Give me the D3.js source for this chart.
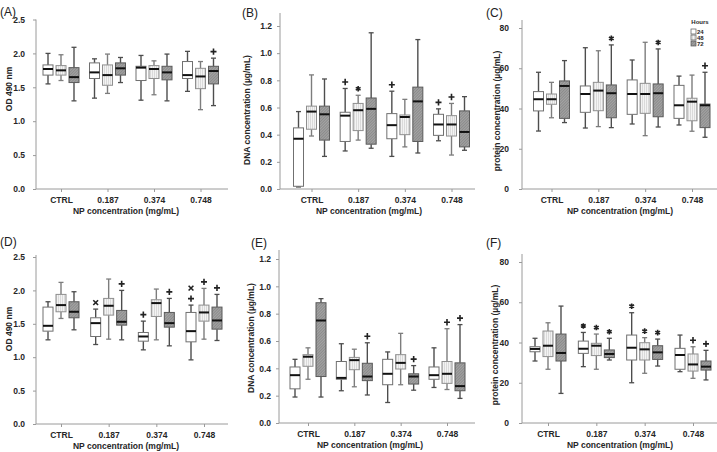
<!DOCTYPE html>
<html>
<head>
<meta charset="utf-8">
<script src="https://cdn.jsdelivr.net/npm/d3@7"></script>
<style>
body { margin:0; background:#fff; }
text { font-family: 'Liberation Sans', Arial, sans-serif; }
</style>
</head>
<body>
<script>
// categories and groups
var categories = ['CTRL', '0.187', '0.374', '0.748'];
var hours = ['24', '48', '72'];

// tick values
var odTicks = [0, 0.5, 1.0, 1.5, 2.0, 2.5];
var dnaTicks = [0, 0.2, 0.4, 0.6, 0.8, 1.0, 1.2];
var proteinTicks = [0, 20, 40, 60, 80];

// boxes: [min, q1, median, q3, max], ordered CTRL(24,48,72), 0.187(...), 0.374(...), 0.748(...)
var boxesA = [
  [1.55, 1.68, 1.77, 1.83, 2.00], [1.60, 1.68, 1.75, 1.82, 1.98], [1.30, 1.57, 1.65, 1.79, 2.09],
  [1.34, 1.63, 1.72, 1.86, 1.92], [1.41, 1.53, 1.68, 1.83, 1.99], [1.57, 1.68, 1.78, 1.86, 1.94],
  [1.31, 1.60, 1.79, 1.81, 1.97], [1.39, 1.63, 1.77, 1.82, 1.89], [1.30, 1.61, 1.72, 1.81, 1.99],
  [1.44, 1.63, 1.68, 1.88, 2.03], [1.17, 1.48, 1.66, 1.78, 1.88], [1.23, 1.55, 1.74, 1.81, 1.93]
];
var boxesB = [
  [0.015, 0.02, 0.37, 0.45, 0.57], [0.39, 0.44, 0.57, 0.61, 0.84], [0.24, 0.36, 0.55, 0.61, 0.81],
  [0.28, 0.35, 0.54, 0.565, 0.74], [0.36, 0.43, 0.58, 0.63, 0.69], [0.30, 0.33, 0.59, 0.67, 1.15],
  [0.24, 0.37, 0.47, 0.555, 0.72], [0.31, 0.40, 0.53, 0.545, 0.66], [0.265, 0.35, 0.645, 0.75, 1.10],
  [0.355, 0.395, 0.475, 0.55, 0.59], [0.25, 0.39, 0.475, 0.54, 0.63], [0.285, 0.31, 0.42, 0.575, 0.68]
];
var boxesC = [
  [28.8, 38.8, 44.6, 48.4, 58.0], [35.4, 42.1, 44.6, 47.2, 53.0], [33.0, 35.1, 51.2, 53.7, 63.8],
  [30.3, 38.1, 47.2, 51.2, 70.2], [31.0, 38.9, 48.9, 53.0, 68.7], [30.5, 35.4, 47.6, 51.7, 71.6],
  [32.3, 37.1, 47.2, 54.2, 64.1], [26.5, 37.6, 47.2, 52.5, 72.9], [30.8, 35.9, 47.6, 52.2, 69.6],
  [31.8, 35.1, 41.6, 51.5, 56.1], [28.7, 33.9, 43.4, 45.1, 56.6], [25.7, 30.5, 41.6, 42.2, 58.0]
];
var boxesD = [
  [1.26, 1.39, 1.47, 1.75, 1.83], [1.58, 1.68, 1.78, 1.94, 2.12], [1.41, 1.59, 1.68, 1.83, 1.98],
  [1.19, 1.31, 1.51, 1.59, 1.72], [1.27, 1.63, 1.77, 1.88, 2.17], [1.26, 1.48, 1.53, 1.70, 2.00],
  [1.11, 1.24, 1.31, 1.37, 1.54], [1.26, 1.61, 1.81, 1.86, 2.02], [1.17, 1.45, 1.51, 1.67, 1.88],
  [0.96, 1.23, 1.39, 1.67, 1.78], [1.27, 1.54, 1.67, 1.78, 2.03], [1.25, 1.42, 1.55, 1.75, 1.94]
];
var boxesE = [
  [0.19, 0.25, 0.35, 0.41, 0.466], [0.32, 0.415, 0.485, 0.50, 0.55], [0.19, 0.34, 0.75, 0.88, 0.91],
  [0.236, 0.32, 0.33, 0.45, 0.58], [0.265, 0.39, 0.46, 0.48, 0.54], [0.205, 0.31, 0.34, 0.437, 0.587],
  [0.15, 0.28, 0.36, 0.466, 0.52], [0.28, 0.395, 0.44, 0.50, 0.656], [0.24, 0.285, 0.34, 0.36, 0.42],
  [0.26, 0.32, 0.35, 0.41, 0.55], [0.245, 0.29, 0.36, 0.45, 0.69], [0.18, 0.236, 0.27, 0.44, 0.72]
];
var boxesF = [
  [30.8, 35.4, 36.8, 37.9, 42.1], [26.7, 33.0, 38.4, 45.7, 49.8], [14.7, 30.8, 34.8, 44.2, 58.1],
  [28.0, 34.6, 36.9, 40.7, 45.0], [26.7, 33.5, 38.4, 39.6, 44.2], [31.3, 32.5, 34.3, 36.3, 42.1],
  [20.0, 31.3, 37.4, 43.7, 54.8], [24.7, 31.3, 36.6, 39.9, 42.4], [28.3, 31.6, 35.1, 38.4, 41.7],
  [25.5, 26.7, 33.8, 37.1, 43.7], [22.2, 25.8, 29.1, 34.3, 37.9], [21.4, 26.3, 28.0, 30.8, 36.1]
];

// significance marks above each box (stacked from bottom up)
var marksA = ['', '', '', '', '', '', '', '', '', '', '', '+'];
var marksB = ['', '', '', '+', '*', '', '+', '', '', '+', '+', ''];
var marksC = ['', '', '', '', '', '*', '', '', '*', '', '', '+'];
var marksD = ['', '', '', 'x', '', '+', '+', '', '+', '+x', '+', '+'];
var marksE = ['', '', '', '', '', '+', '', '', '+', '', '+', '+'];
var marksF = ['', '', '', '*', '*', '*', '*', '*', '*', '', '+', '+'];

var xTitle = 'NP concentration (mg/mL)';

var panels = [
  {name:'(A)', lx:0, ly:15.5, boxes:boxesA, marks:marksA, ticks:odTicks, fmt:'.1f', yLabel:'OD 490 nm',
   x0:36, x1:228, y0:189, yTopVal:2.5, yTopPx:19.5, axisTop:19.5, c0:61, c1:200.5, pad:8, ylx:9, yly:89, tx:126},
  {name:'(B)', lx:242, ly:16.5, boxes:boxesB, marks:marksB, ticks:dnaTicks, fmt:'.1f', yLabel:'DNA concentration (\u00b5g/mL)',
   x0:280, x1:475, y0:189, yTopVal:1.2, yTopPx:26, axisTop:13, c0:311.5, c1:451.5, pad:5, ylx:247, yly:110, tx:369},
  {name:'(C)', lx:486, ly:16.5, boxes:boxesC, marks:marksC, ticks:proteinTicks, fmt:'d', yLabel:'protein concentration (\u00b5g/mL)',
   x0:522, x1:717, y0:189, yTopVal:80, yTopPx:28, axisTop:20, c0:551.5, c1:692, pad:10, ylx:497, yly:111, tx:620, legend:true},
  {name:'(D)', lx:0, ly:246, boxes:boxesD, marks:marksD, ticks:odTicks, fmt:'.1f', yLabel:'OD 490 nm',
   x0:36, x1:228, y0:424, yTopVal:2.5, yTopPx:257, axisTop:255, c0:61, c1:204, pad:8, ylx:9, yly:329, tx:126},
  {name:'(E)', lx:251, ly:247, boxes:boxesE, marks:marksE, ticks:dnaTicks, fmt:'.1f', yLabel:'DNA concentration (\u00b5g/mL)',
   x0:279, x1:475, y0:423, yTopVal:1.2, yTopPx:259, axisTop:250, c0:308, c1:447, pad:5, ylx:251, yly:338, tx:370},
  {name:'(F)', lx:486, ly:247, boxes:boxesF, marks:marksF, ticks:proteinTicks, fmt:'d', yLabel:'protein concentration (\u00b5g/mL)',
   x0:522, x1:717, y0:423, yTopVal:80, yTopPx:262, axisTop:254, c0:548, c1:693, pad:10, ylx:495, yly:345, tx:620}
];

// glyph outlines for the marks, drawn as strokes
var markPaths = {
  '+': 'M-3,0H3M0,-3.2V3.2',
  'x': 'M-2.4,-2.4L2.4,2.4M-2.4,2.4L2.4,-2.4',
  '*': 'M0,-2.8V2.8M-2.4,-1.4L2.4,1.4M-2.4,1.4L2.4,-1.4'
};

var svg = d3.select('body')
            .append('svg')
            .attr('width', 717)
            .attr('height', 452);

var defs = svg.append('defs');
var p48 = defs.append('pattern')
              .attr('id', 'hatch48')
              .attr('patternUnits', 'userSpaceOnUse')
              .attr('width', 2)
              .attr('height', 2);
p48.append('rect').attr('width', 2).attr('height', 2).attr('fill', '#f3f3f3');
p48.append('rect').attr('width', 0.8).attr('height', 2).attr('fill', '#d4d4d4');
var p72 = defs.append('pattern')
              .attr('id', 'hatch72')
              .attr('patternUnits', 'userSpaceOnUse')
              .attr('width', 2)
              .attr('height', 2)
              .attr('patternTransform', 'rotate(45)');
p72.append('rect').attr('width', 2).attr('height', 2).attr('fill', '#a4a4a4');
p72.append('rect').attr('width', 0.8).attr('height', 2).attr('fill', '#858585');

var hourStyle = {
  '24': {fill:'#ffffff', stroke:'#707070', whisker:'#4d4d4d'},
  '48': {fill:'url(#hatch48)', stroke:'#8f8f8f', whisker:'#7d7d7d'},
  '72': {fill:'url(#hatch72)', stroke:'#5a5a5a', whisker:'#4d4d4d'}
};
var axisColor = '#9a9a9a';
var textColor = '#262626';

var drawPanel = function(p){
  var g = svg.append('g').classed('panel', true);
  var y = d3.scaleLinear()
            .domain([0, p.yTopVal])
            .range([p.y0, p.yTopPx]);
  var x = d3.scalePoint()
            .domain(categories)
            .range([p.c0, p.c1]);
  var xh = d3.scaleBand()
             .domain(hours)
             .range([-18, 18])
             .paddingInner(0.23);

  // y axis
  var yAxis = d3.axisLeft(y)
                .tickValues(p.ticks)
                .tickFormat(d3.format(p.fmt))
                .tickSize(3)
                .tickSizeOuter(0)
                .tickPadding(p.pad);
  var yg = g.append('g')
            .attr('transform', 'translate(' + p.x0 + ',0)')
            .call(yAxis);
  yg.select('.domain').remove();
  yg.selectAll('line').attr('stroke', axisColor);
  yg.selectAll('text')
    .attr('fill', textColor)
    .style('font-size', '8.5px')
    .style('font-weight', 'bold');
  g.append('line')
   .attr('x1', p.x0).attr('x2', p.x0)
   .attr('y1', p.axisTop).attr('y2', p.y0)
   .attr('stroke', axisColor);

  // x axis
  var xAxis = d3.axisBottom(x)
                .tickSize(3)
                .tickSizeOuter(0)
                .tickPadding(5);
  var xg = g.append('g')
            .attr('transform', 'translate(0,' + p.y0 + ')')
            .call(xAxis);
  xg.select('.domain').remove();
  xg.selectAll('line').attr('stroke', axisColor);
  xg.selectAll('text')
    .attr('fill', textColor)
    .style('font-size', '8.5px')
    .style('font-weight', 'bold');
  g.append('line')
   .attr('x1', p.x0).attr('x2', p.x1)
   .attr('y1', p.y0).attr('y2', p.y0)
   .attr('stroke', axisColor);

  g.append('text')
   .attr('x', p.tx)
   .attr('y', p.y0 + 24.5)
   .attr('text-anchor', 'middle')
   .attr('fill', textColor)
   .style('font-size', '8.5px')
   .style('font-weight', 'bold')
   .text(xTitle);

  g.append('text')
   .attr('text-anchor', 'middle')
   .attr('transform', 'translate(' + (p.ylx + 3) + ',' + p.yly + ') rotate(-90)')
   .attr('fill', textColor)
   .style('font-size', '8.5px')
   .style('font-weight', 'bold')
   .text(p.yLabel);

  g.append('text')
   .attr('x', p.lx)
   .attr('y', p.ly)
   .attr('fill', '#222')
   .style('font-size', '12px')
   .text(p.name);

  // boxes
  var bw = xh.bandwidth();
  g.selectAll('g.box')
   .data(p.boxes)
   .enter()
   .append('g')
   .classed('box', true)
   .each(function(d, i){
     var cat = categories[Math.floor(i / 3)];
     var hr = hours[i % 3];
     var st = hourStyle[hr];
     var cx = x(cat) + xh(hr) + bw / 2;
     var b = d3.select(this);
     b.append('line')
      .attr('x1', cx).attr('x2', cx)
      .attr('y1', y(d[4])).attr('y2', y(d[3]))
      .attr('stroke', st.whisker).attr('stroke-width', 1.4);
     b.append('line')
      .attr('x1', cx).attr('x2', cx)
      .attr('y1', y(d[1])).attr('y2', y(d[0]))
      .attr('stroke', st.whisker).attr('stroke-width', 1.4);
     [d[0], d[4]].forEach(function(v){
       b.append('line')
        .attr('x1', cx - 2.5).attr('x2', cx + 2.5)
        .attr('y1', y(v)).attr('y2', y(v))
        .attr('stroke', st.whisker).attr('stroke-width', 1.3);
     });
     b.append('rect')
      .attr('x', cx - bw / 2)
      .attr('y', y(d[3]))
      .attr('width', bw)
      .attr('height', y(d[1]) - y(d[3]))
      .attr('fill', st.fill)
      .attr('stroke', st.stroke)
      .attr('stroke-width', 1);
     b.append('line')
      .attr('x1', cx - bw / 2).attr('x2', cx + bw / 2)
      .attr('y1', y(d[2])).attr('y2', y(d[2]))
      .attr('stroke', '#111').attr('stroke-width', 2);

     var m = p.marks[i];
     for (var k = 0; k < m.length; k++){
       b.append('path')
        .attr('d', markPaths[m[k]])
        .attr('transform', 'translate(' + cx + ',' + (y(d[4]) - 6.5 - k * 10.5) + ')')
        .attr('fill', 'none')
        .attr('stroke', '#222')
        .attr('stroke-width', 1.6);
     }
   });

  if (p.legend){
    var lg = g.append('g').classed('legend', true);
    lg.append('text')
      .attr('x', 700)
      .attr('y', 24)
      .attr('text-anchor', 'middle')
      .attr('fill', textColor)
      .style('font-size', '6px')
      .style('font-weight', 'bold')
      .text('Hours');
    lg.selectAll('rect')
      .data(hours)
      .enter()
      .append('rect')
      .attr('x', 691)
      .attr('y', function(d, i){ return 29 + i * 6; })
      .attr('width', 5)
      .attr('height', 5)
      .attr('fill', function(d){ return hourStyle[d].fill; })
      .attr('stroke', '#555')
      .attr('stroke-width', 0.7);
    lg.selectAll('text.item')
      .data(hours)
      .enter()
      .append('text')
      .classed('item', true)
      .attr('x', 697)
      .attr('y', function(d, i){ return 34 + i * 6; })
      .attr('fill', textColor)
      .style('font-size', '6px')
      .style('font-weight', 'bold')
      .text(function(d){ return d; });
  }
};

panels.forEach(drawPanel);
</script>
</body>
</html>
